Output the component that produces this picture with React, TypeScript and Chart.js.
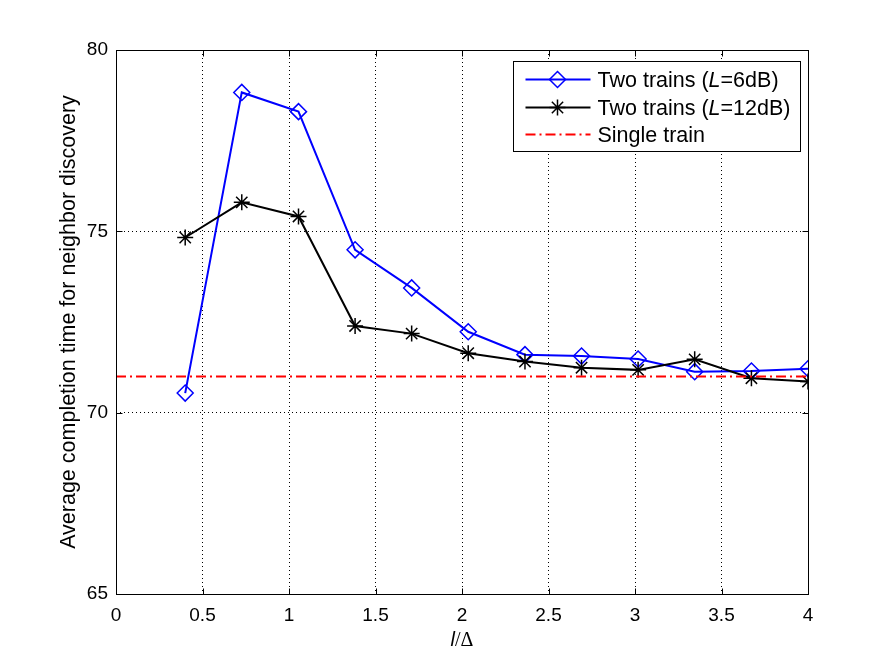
import { useEffect, useRef } from "react";
import { Chart, registerables } from "chart.js";

Chart.register(...registerables);

const FONT = '"Liberation Sans", Arial, Helvetica, sans-serif';
const SERIF = '"Liberation Serif", "Times New Roman", serif';

// ---- data ----
const xValues = [0.4, 0.727, 1.055, 1.382, 1.709, 2.036, 2.364, 2.691, 3.018, 3.345, 3.673, 4.0];
const twoTrains6dB = [70.54, 78.83, 78.3, 74.49, 73.44, 72.23, 71.6, 71.56, 71.48, 71.13, 71.15, 71.21];
const twoTrains12dB = [74.83, 75.8, 75.41, 72.39, 72.18, 71.64, 71.41, 71.24, 71.18, 71.47, 70.95, 70.86];
const singleTrainLevel = 71;
const xRange = [0, 4];
const yRange = [65, 80];
const xTickStep = 0.5;
const yTickStep = 5;
const yAxisTitle = "Average completion time for neighbor discovery";
// legend labels as [text, italic] parts
const legend6dB: [string, boolean][] = [["Two trains (", false], ["L", true], ["=6dB)", false]];
const legend12dB: [string, boolean][] = [["Two trains (", false], ["L", true], ["=12dB)", false]];
const legendSingle: [string, boolean][] = [["Single train", false]];

const BLUE = "#0000ff";
const BLACK = "#000000";
const RED = "#ff0000";

function drawDiamond(ctx: CanvasRenderingContext2D, x: number, y: number, r: number) {
  ctx.beginPath();
  ctx.moveTo(x, y - r);
  ctx.lineTo(x + r, y);
  ctx.lineTo(x, y + r);
  ctx.lineTo(x - r, y);
  ctx.closePath();
  ctx.stroke();
}

function drawStar(ctx: CanvasRenderingContext2D, x: number, y: number, r: number) {
  ctx.beginPath();
  const d = r * Math.SQRT1_2;
  ctx.moveTo(x - r, y); ctx.lineTo(x + r, y);
  ctx.moveTo(x, y - r); ctx.lineTo(x, y + r);
  ctx.moveTo(x - d, y - d); ctx.lineTo(x + d, y + d);
  ctx.moveTo(x - d, y + d); ctx.lineTo(x + d, y - d);
  ctx.stroke();
}

function drawParts(ctx: CanvasRenderingContext2D, parts: [string, boolean][], x: number, y: number, size: number) {
  let cx = x;
  for (const [t, it] of parts) {
    ctx.font = `${it ? "italic " : ""}${size}px ${FONT}`;
    ctx.fillText(t, cx, y);
    cx += ctx.measureText(t).width;
  }
}

const fmt = (v: any) => String(+Number(v).toFixed(3));

const framePlugin = {
  id: "matlabFrame",
  afterDraw(chart: any) {
    const { ctx, chartArea: a, scales } = chart;
    ctx.save();
    ctx.setLineDash([]);
    ctx.strokeStyle = BLACK;
    ctx.lineWidth = 1;
    const L = Math.round(a.left) + 0.5;
    const R = Math.round(a.right) + 0.5;
    const T = Math.round(a.top) + 0.5;
    const B = Math.round(a.bottom) + 0.5;
    ctx.strokeRect(L, T, R - L, B - T);
    const tl = 6;
    ctx.beginPath();
    scales.x.ticks.forEach((t: any) => {
      const px = Math.round(scales.x.getPixelForValue(t.value)) + 0.5;
      ctx.moveTo(px, B); ctx.lineTo(px, B - tl);
      ctx.moveTo(px, T); ctx.lineTo(px, T + tl);
    });
    scales.y.ticks.forEach((t: any) => {
      const py = Math.round(scales.y.getPixelForValue(t.value)) + 0.5;
      ctx.moveTo(L, py); ctx.lineTo(L + tl, py);
      ctx.moveTo(R, py); ctx.lineTo(R - tl, py);
    });
    ctx.stroke();

    // legend
    const bw = 287, bh = 90;
    const bx = Math.round(a.right) - 8 - bw + 0.5;
    const by = Math.round(a.top) + 11 + 0.5;
    ctx.fillStyle = "#ffffff";
    ctx.fillRect(bx, by, bw, bh);
    ctx.strokeRect(bx, by, bw, bh);
    const rows: { parts: [string, boolean][]; color: string; marker: string; dash: number[] }[] = [
      { parts: legend6dB, color: BLUE, marker: "diamond", dash: [] },
      { parts: legend12dB, color: BLACK, marker: "star", dash: [] },
      { parts: legendSingle, color: RED, marker: "none", dash: [10, 4, 2, 4] },
    ];
    const rowY = [18, 46, 73];
    rows.forEach((r, i) => {
      const y = by + rowY[i];
      ctx.strokeStyle = r.color;
      ctx.lineWidth = 2;
      ctx.setLineDash(r.dash);
      ctx.beginPath();
      ctx.moveTo(bx + 12, y);
      ctx.lineTo(bx + 77, y);
      ctx.stroke();
      ctx.setLineDash([]);
      ctx.lineWidth = 1.5;
      if (r.marker === "diamond") drawDiamond(ctx, bx + 44, y, 8);
      if (r.marker === "star") drawStar(ctx, bx + 44, y, 8);
      ctx.fillStyle = BLACK;
      ctx.textBaseline = "alphabetic";
      ctx.textAlign = "left";
      drawParts(ctx, r.parts, bx + 84, y + 7.5, 21.5);
    });

    // x title: italic l / Delta
    ctx.fillStyle = BLACK;
    ctx.textBaseline = "alphabetic";
    ctx.textAlign = "left";
    ctx.font = `italic 20px ${FONT}`;
    const w1 = ctx.measureText("l").width;
    ctx.font = `20px ${SERIF}`;
    const w2 = ctx.measureText("/\u0394").width;
    const cx = (a.left + a.right) / 2;
    const xb = a.bottom + 52;
    const sx = cx - (w1 + w2) / 2;
    ctx.font = `italic 20px ${FONT}`;
    ctx.fillText("l", sx, xb);
    ctx.font = `20px ${SERIF}`;
    ctx.fillText("/\u0394", sx + w1, xb);

    // y title
    ctx.save();
    ctx.translate(a.left - 41, (a.top + a.bottom) / 2);
    ctx.rotate(-Math.PI / 2);
    ctx.textAlign = "center";
    ctx.font = `21.5px ${FONT}`;
    ctx.fillText(yAxisTitle, 0, 0);
    ctx.restore();

    ctx.restore();
  },
};

export default function App() {
  const ref = useRef<HTMLCanvasElement | null>(null);
  useEffect(() => {
    if (!ref.current) return;
    const chart = new Chart(ref.current, {
      type: "line",
      data: {
        datasets: [
          {
            label: "Two trains (L=6dB)",
            data: xValues.map((x, i) => ({ x, y: twoTrains6dB[i] })),
            borderColor: BLUE,
            backgroundColor: "rgba(0,0,0,0)",
            borderWidth: 2,
            pointStyle: "rectRot",
            pointRadius: 8,
            pointBorderWidth: 1.5,
            pointBorderColor: BLUE,
            pointBackgroundColor: "rgba(0,0,0,0)",
            tension: 0,
            order: 3,
          },
          {
            label: "Two trains (L=12dB)",
            data: xValues.map((x, i) => ({ x, y: twoTrains12dB[i] })),
            borderColor: BLACK,
            backgroundColor: "rgba(0,0,0,0)",
            borderWidth: 2,
            pointStyle: "star",
            pointRadius: 8,
            pointBorderWidth: 1.5,
            pointBorderColor: BLACK,
            pointBackgroundColor: "rgba(0,0,0,0)",
            tension: 0,
            order: 2,
          },
          {
            label: "Single train",
            data: [
              { x: xRange[0], y: singleTrainLevel },
              { x: xRange[1], y: singleTrainLevel },
            ],
            borderColor: RED,
            borderWidth: 2,
            borderDash: [10, 4, 2, 4],
            pointRadius: 0,
            tension: 0,
            order: 1,
          },
        ],
      },
      options: {
        animation: false,
        responsive: false,
        devicePixelRatio: 1,
        layout: { padding: { left: 0, top: 50, right: 85, bottom: 0 } },
        plugins: { legend: { display: false }, tooltip: { enabled: false }, title: { display: false } },
        scales: {
          x: {
            type: "linear",
            min: xRange[0],
            max: xRange[1],
            afterFit: (s: any) => { s.height = 74; },
            ticks: { stepSize: xTickStep, color: BLACK, font: { family: FONT, size: 19 }, padding: 10, maxRotation: 0, autoSkip: false, callback: fmt },
            grid: { color: BLACK, lineWidth: 1, drawTicks: false },
            border: { display: false, dash: [1, 3] },
          },
          y: {
            type: "linear",
            min: yRange[0],
            max: yRange[1],
            afterFit: (s: any) => { s.width = 116; },
            ticks: { stepSize: yTickStep, color: BLACK, font: { family: FONT, size: 19 }, padding: 8, callback: fmt },
            grid: { color: BLACK, lineWidth: 1, drawTicks: false },
            border: { display: false, dash: [1, 3] },
          },
        },
      },
      plugins: [framePlugin],
    } as any);
    return () => chart.destroy();
  }, []);
  return (
    <div style={{ position: "absolute", left: 0, top: 0, width: 893, height: 668, background: "#fff" }}>
      <canvas ref={ref} width={893} height={668} style={{ display: "block" }} />
    </div>
  );
}
